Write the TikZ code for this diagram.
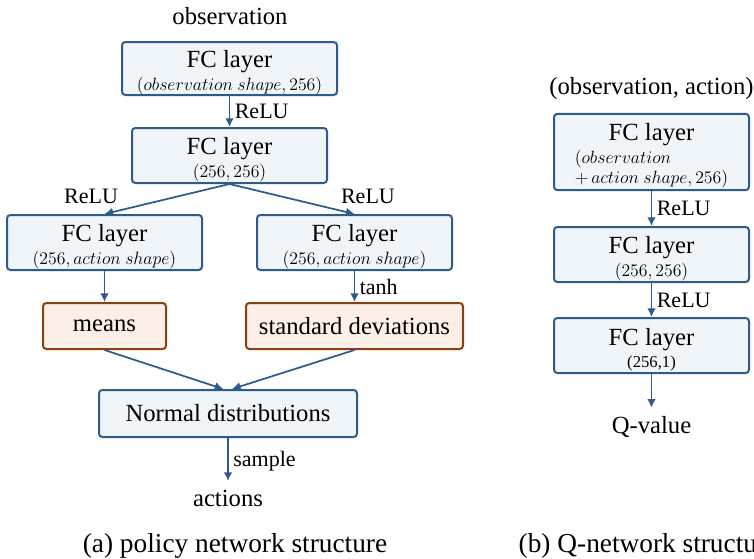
\documentclass[tikz,border=0pt]{standalone}
\usepackage{graphicx}
\usepackage{fontspec}
\setmainfont{Liberation Serif}
\usetikzlibrary{arrows.meta}

\definecolor{layerblue}{HTML}{2F5B8A}
\definecolor{layerfill}{HTML}{F0F5FA}
\definecolor{outbrown}{HTML}{8C3F10}
\definecolor{outfill}{HTML}{FBEFE8}

\tikzset{
  layer/.style={draw=layerblue, fill=layerfill, line width=1.5pt,
    rounded corners=2.5pt, align=center, inner sep=0pt,
    font=\fontsize{18.5}{20}\selectfont},
  outbox/.style={layer, draw=outbrown, fill=outfill},
  flow/.style={-{Latex[length=6.5pt,width=6.5pt]}, draw=layerblue, line width=1.3pt},
  lbl/.style={font=\fontsize{16.5}{18}\selectfont},
  io/.style={font=\fontsize{18.5}{20}\selectfont},
  subcap/.style={font=\fontsize{20.5}{22}\selectfont},
}
\newcommand{\dimtext}[1]{{\fontsize{12}{14}\selectfont\scalebox{1.11}{$#1$}}}
\newcommand{\fclayer}[1]{\rule{0pt}{19pt}FC layer\\[-3pt]\dimtext{#1}}

\begin{document}
\begin{tikzpicture}[x=0.75pt, y=-0.75pt]
    \useasboundingbox (0,0) rectangle (754,558);
    \clip (0,0) rectangle (754,558);

    % (a) policy network
    \node[io] (obs) at (230,16) {observation};
    \node[layer, minimum width=161.25pt, minimum height=39.75pt] (fc1) at (229.5,68.5)
        {\fclayer{(observation\ shape, 256)}};
    \node[layer, minimum width=146.25pt, minimum height=41.25pt] (fc2) at (229.5,155.5)
        {\fclayer{(256, 256)}};
    \node[layer, minimum width=146.25pt, minimum height=41.25pt] (fc3) at (104.5,242.5)
        {\fclayer{(256, action\ shape)}};
    \node[layer, minimum width=146.25pt, minimum height=41.25pt] (fc4) at (354.5,242.5)
        {\fclayer{(256, action\ shape)}};
    \node[outbox, minimum width=92.25pt, minimum height=34.5pt] (mean) at (104.5,326) {means};
    \node[outbox, minimum width=162.75pt, minimum height=34.5pt] (std) at (354.5,326) {standard deviations};
    \node[layer, minimum width=193.5pt, minimum height=35.25pt] (nd) at (228,413.5) {Normal distributions};
    \node[io] (act) at (228,498) {actions};

    \draw[flow] (fc1.south) -- node[lbl, right] {ReLU} (fc2.north);
    \draw[flow] (fc2.south) -- node[lbl, pos=0.85, above left] {ReLU} (fc3.north);
    \draw[flow] (fc2.south) -- node[lbl, pos=0.85, above right] {ReLU} (fc4.north);
    \draw[flow] (fc3.south) -- (mean.north);
    \draw[flow] (fc4.south) -- node[lbl, right] {tanh} (std.north);
    \draw[flow] (mean.south) -- ([xshift=-3.5pt]nd.north);
    \draw[flow] (std.south) -- ([xshift=3pt]nd.north);
    \draw[flow, shorten >=3pt] (nd.south) -- node[lbl, right] {sample} (act.north);

    % (b) Q-network
    \node[io] (qin) at (651.5,89) {(observation, action)};
    \node[layer, minimum width=146.25pt, minimum height=55.5pt] (qfc1) at (651.5,152)
        {\rule{0pt}{20pt}FC layer\\[-3pt]{\fontsize{12}{14}\selectfont\scalebox{1.11}{\begin{tabular}[t]{@{}l@{}}$(observation$\\[0pt]$+\,action\ shape, 256)$\end{tabular}}}};
    \node[layer, minimum width=146.25pt, minimum height=41.25pt] (qfc2) at (651.5,254.5)
        {\fclayer{(256, 256)}};
    \node[layer, minimum width=146.25pt, minimum height=41.25pt] (qfc3) at (651.5,345.5)
        {\rule{0pt}{19pt}FC layer\\[-3pt]{\fontsize{12.5}{13}\selectfont(256,1)}};
    \node[io] (qval) at (651.5,427) {Q-value};

    \draw[flow] (qfc1.south) -- node[lbl, right] {ReLU} (qfc2.north);
    \draw[flow] (qfc2.south) -- node[lbl, right] {ReLU} (qfc3.north);
    \draw[flow, shorten >=3pt] (qfc3.south) -- (qval.north);

    % captions
    \node[subcap] (capa) at (235,546) {(a) policy network structure};
    \node[subcap, anchor=west] (capb) at (514,546) {(b) Q-network structure};
\end{tikzpicture}
\end{document}
